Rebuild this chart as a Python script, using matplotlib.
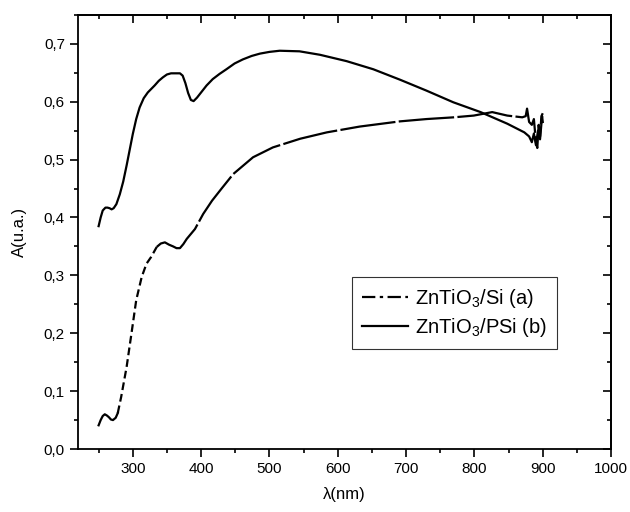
import matplotlib
matplotlib.use("Agg")
import matplotlib.pyplot as plt
from matplotlib.lines import Line2D
from matplotlib.ticker import MultipleLocator, FuncFormatter
import numpy as np

plt.rcParams['font.family'] = ['Liberation Sans', 'DejaVu Sans']

# curve (a) ZnTiO3/Si
lam_a = [250, 253, 256, 259, 262, 265, 268, 271, 275, 278, 283, 291, 298, 305,
         313, 320, 327, 335, 341, 347, 353, 359, 364, 369, 374, 379, 391, 403,
         416, 430, 447, 476, 505, 545, 584, 632, 691, 730, 770, 799, 826, 848,
         870, 875, 877, 880, 884, 887, 890, 892, 894, 896, 898, 900]
abs_a = [0.041, 0.050, 0.057, 0.060, 0.058, 0.055, 0.051, 0.050, 0.054, 0.062,
         0.090, 0.142, 0.199, 0.257, 0.297, 0.320, 0.332, 0.349, 0.355, 0.357,
         0.353, 0.350, 0.347, 0.347, 0.354, 0.363, 0.380, 0.406, 0.429, 0.450,
         0.475, 0.504, 0.521, 0.536, 0.547, 0.557, 0.566, 0.570, 0.573, 0.576,
         0.582, 0.576, 0.573, 0.575, 0.588, 0.565, 0.560, 0.570, 0.530, 0.520,
         0.560, 0.540, 0.575, 0.580]

# curve (b) ZnTiO3/PSi
lam_b = [250, 253, 256, 260, 263, 266, 269, 272, 276, 281, 286, 291, 296, 300,
         305, 310, 316, 322, 332, 338, 344, 350, 356, 362, 369, 373, 377, 381,
         385, 389, 394, 400, 408, 417, 427, 437, 449, 461, 474, 486, 500, 515,
         544, 574, 613, 652, 691, 730, 769, 809, 848, 873, 880, 884, 887, 890,
         893, 896, 899, 900]
abs_b = [0.385, 0.400, 0.412, 0.417, 0.417, 0.416, 0.414, 0.416, 0.423, 0.440,
         0.462, 0.490, 0.520, 0.544, 0.570, 0.590, 0.606, 0.616, 0.628, 0.636,
         0.642, 0.647, 0.649, 0.649, 0.649, 0.645, 0.632, 0.615, 0.603, 0.601,
         0.607, 0.616, 0.628, 0.639, 0.648, 0.656, 0.666, 0.673, 0.679, 0.683,
         0.686, 0.688, 0.687, 0.681, 0.670, 0.656, 0.638, 0.619, 0.599, 0.582,
         0.562, 0.547, 0.540, 0.530, 0.545, 0.525, 0.550, 0.535, 0.575, 0.565]

labels = ["ZnTiO$_\\mathregular{3}$/Si (a)", "ZnTiO$_\\mathregular{3}$/PSi (b)"]

fig = plt.figure(figsize=(6.3, 5.12), dpi=100)
ax = fig.add_axes([0.124, 0.123, 0.846, 0.848])

lam_a = np.array(lam_a)
abs_a = np.array(abs_a)
steep = (lam_a >= 278) & (lam_a <= 335)
first = np.where(steep)[0]
lo, hi = first[0], first[-1]
# Origin's dash-dot pattern looks dashed on the steep rise, solid elsewhere
ax.plot(lam_a[:lo + 1], abs_a[:lo + 1], color='black', lw=1.6)
ax.plot(lam_a[lo:hi + 1], abs_a[lo:hi + 1], color='black', lw=1.6,
        ls=(0, (3.5, 1.8)))
ax.plot(lam_a[hi:], abs_a[hi:], color='black', lw=1.6, ls=(0, (25, 1.5)))
ax.plot(lam_b, abs_b, color='black', lw=1.6)

ax.set_xlim(220, 1000)
ax.set_ylim(0, 0.75)
ax.xaxis.set_major_locator(MultipleLocator(100))
ax.xaxis.set_minor_locator(MultipleLocator(50))
ax.yaxis.set_major_locator(MultipleLocator(0.1))
ax.yaxis.set_minor_locator(MultipleLocator(0.05))
ax.yaxis.set_major_formatter(FuncFormatter(lambda v, p: f"{v:.1f}".replace('.', ',')))
ax.tick_params(which='major', direction='out', length=6, width=1.2, labelsize=11)
ax.tick_params(which='minor', direction='out', length=3, width=1.2)
for s in ax.spines.values():
    s.set_linewidth(1.3)

top = ax.secondary_xaxis('top')
top.xaxis.set_major_locator(MultipleLocator(100))
top.xaxis.set_minor_locator(MultipleLocator(50))
top.tick_params(which='major', direction='in', length=6, width=1.2, labeltop=False)
top.tick_params(which='minor', direction='in', length=3, width=1.2)
right = ax.secondary_yaxis('right')
right.yaxis.set_major_locator(MultipleLocator(0.1))
right.yaxis.set_minor_locator(MultipleLocator(0.05))
right.tick_params(which='major', direction='in', length=6, width=1.2, labelright=False)
right.tick_params(which='minor', direction='in', length=3, width=1.2)
top.spines['top'].set_linewidth(1.3)
right.spines['right'].set_linewidth(1.3)

ax.set_xlabel("λ(nm)", fontsize=12, labelpad=8)
ax.set_ylabel("A(u.a.)", fontsize=12, labelpad=12)

handles = [Line2D([], [], color='black', lw=1.6, ls=(0, (6, 2, 1.5, 2))),
           Line2D([], [], color='black', lw=1.6)]
leg = ax.legend(handles, labels, loc='upper left', bbox_to_anchor=(0.514, 0.397),
                fontsize=14.5, frameon=True, fancybox=False, edgecolor='black',
                handlelength=2.3, handletextpad=0.3, borderpad=0.5,
                labelspacing=0.3, borderaxespad=0)
leg.get_frame().set_linewidth(0.8)

fig.savefig("out.png", dpi=100)
